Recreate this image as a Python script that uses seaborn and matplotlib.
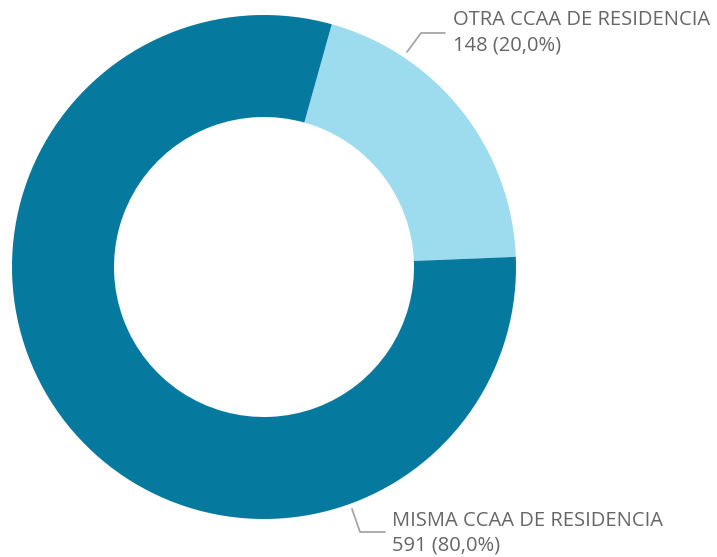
import matplotlib
matplotlib.use("Agg")
import matplotlib.pyplot as plt
import seaborn as sns

# Data
categories = ["OTRA CCAA DE RESIDENCIA", "MISMA CCAA DE RESIDENCIA"]
counts = [148, 591]
colors = ["#9DDBEF", "#06799F"]

sns.set_theme(style="white")
plt.rcParams["font.family"] = ["Open Sans", "DejaVu Sans"]

W, H = 717, 557
fig = plt.figure(figsize=(W / 100, H / 100), dpi=100)
ax = fig.add_axes([0, 0, 1, 1])

cx, cy, r = 264, H - 267, 252
ax.pie(counts, colors=colors, startangle=74.4, counterclock=False,
       center=(cx, cy), radius=r, frame=True,
       wedgeprops=dict(width=102, linewidth=0))

total = sum(counts)
labels = [f"{c} ({100 * c / total:.1f}%)".replace(".", ",") for c in counts]
line_col = "#A6A6A6"
txt_col = "#666666"
fs = 14.5

# Top label (OTRA)
ax.plot([407, 421, 445], [H - 52, H - 33, H - 33], color=line_col, lw=1.3)
ax.text(453, H - 20, categories[0], fontsize=fs, color=txt_col, va="center", ha="left")
ax.text(453, H - 46, labels[0], fontsize=fs, color=txt_col, va="center", ha="left")

# Bottom label (MISMA)
ax.plot([352, 360, 385], [H - 509, H - 532, H - 532], color=line_col, lw=1.3)
ax.text(392, H - 521, categories[1], fontsize=fs, color=txt_col, va="center", ha="left")
ax.text(392, H - 546, labels[1], fontsize=fs, color=txt_col, va="center", ha="left")

ax.set_xlim(0, W)
ax.set_ylim(0, H)
ax.set_aspect("equal")
ax.axis("off")

fig.savefig("out.png", dpi=100, facecolor="white")
